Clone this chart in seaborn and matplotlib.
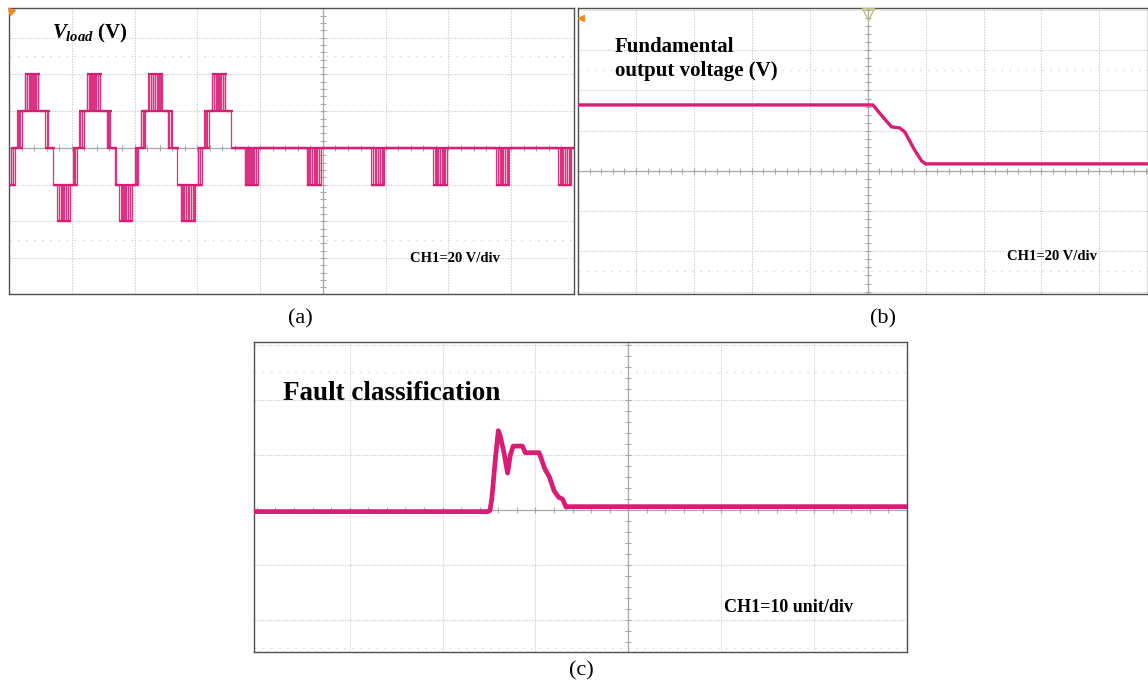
import numpy as np
import pandas as pd
import matplotlib
matplotlib.use("Agg")
import matplotlib.pyplot as plt
import seaborn as sns

sns.set_theme(style="white")
plt.rcParams["font.family"] = ["Liberation Serif", "DejaVu Serif"]
plt.rcParams["text.color"] = "black"
plt.rcParams["mathtext.fontset"] = "custom"
plt.rcParams["mathtext.it"] = "Liberation Serif:italic:bold"
plt.rcParams["mathtext.rm"] = "Liberation Serif:bold"

TRACE = "#d91c74"
GRID = "#cfcfcf"
AXIS = "#a8a8a8"
FRAME = "#505050"

# ---------------- (a) load voltage, 20 V/div, time in divisions ----------------
# segment start, end, lower level, upper level (equal levels -> steady level,
# different levels -> PWM switching band between them)
va_start = [0.00, 0.03, 0.09, 0.13, 0.20, 0.25, 0.49, 0.57, 0.65, 0.70, 0.73, 0.76, 0.97,
            1.02, 1.08, 1.12, 1.19, 1.24, 1.48, 1.56, 1.64, 1.69, 1.72, 1.75, 1.96,
            2.00, 2.06, 2.10, 2.17, 2.22, 2.46, 2.54, 2.62, 2.67, 2.70, 2.74, 2.97,
            3.01, 3.07, 3.11, 3.18, 3.23, 3.47, 3.53, 3.57, 3.76, 3.96,
            4.75, 4.97, 5.76, 5.98, 6.75, 6.97, 7.75, 7.97, 8.74, 8.96]
va_end = [0.03, 0.09, 0.13, 0.20, 0.25, 0.49, 0.57, 0.65, 0.70, 0.73, 0.76, 0.97, 1.02,
          1.08, 1.12, 1.19, 1.24, 1.48, 1.56, 1.64, 1.69, 1.72, 1.75, 1.96, 2.00,
          2.06, 2.10, 2.17, 2.22, 2.46, 2.54, 2.62, 2.67, 2.70, 2.74, 2.97, 3.01,
          3.07, 3.11, 3.18, 3.23, 3.47, 3.53, 3.57, 3.76, 3.96, 4.75,
          4.97, 5.76, 5.98, 6.75, 6.97, 7.75, 7.97, 8.74, 8.96, 9.00]
va_low = [-20, -20, 0, 0, 20, 20, 20, 0, 0, -20, -20, -40, -20,
          -20, 0, 0, 20, 20, 20, 0, 0, -20, -20, -40, -20,
          -20, 0, 0, 20, 20, 20, 0, 0, -20, -20, -40, -20,
          -20, 0, 0, 20, 20, 20, 0, 0, -20, 0,
          -20, 0, -20, 0, -20, 0, -20, 0, -20, 0]
va_high = [-20, 0, 0, 20, 20, 40, 20, 20, 0, 0, -20, -20, -20,
           0, 0, 20, 20, 40, 20, 20, 0, 0, -20, -20, -20,
           0, 0, 20, 20, 40, 20, 20, 0, 0, -20, -20, -20,
           0, 0, 20, 20, 40, 20, 20, 0, 0, 0,
           0, 0, 0, 0, 0, 0, 0, 0, 0, 0]

# ---------------- (b) fundamental output voltage, 20 V/div ----------------
vb_t = [0.00, 5.09, 5.26, 5.41, 5.55, 5.64, 5.81, 5.93, 6.00, 9.83]
vb_v = [32.8, 32.8, 26.9, 21.9, 21.4, 19.4, 10.4, 5.0, 3.5, 3.5]

# ---------------- (c) fault classification, 10 unit/div ----------------
fc_t = [-4.03, -1.51, -1.49, -1.47, -1.43, -1.40, -1.38, -1.34, -1.30, -1.27, -1.24,
        -1.14, -1.11, -0.96, -0.90, -0.85, -0.80, -0.75, -0.71, -0.67, -0.65, 3.00]
fc_v = [-0.3, -0.3, -0.1, 2.0, 9.5, 14.4, 13.5, 10.5, 6.7, 10.0, 11.6,
        11.6, 10.4, 10.4, 7.5, 6.0, 3.5, 2.3, 2.0, 0.5, 0.6, 0.6]

PWM_STEP = 0.036  # switching period drawn inside a band (divisions)


def pwm_trace(starts, ends, lows, highs, step):
    xs, ys = [], []
    for t0, t1, lo, hi in zip(starts, ends, lows, highs):
        if lo == hi:
            xs += [t0, t1]
            ys += [lo, lo]
        else:
            n = max(1, int(round((t1 - t0) / step)))
            edges = np.linspace(t0, t1, n + 1)
            for a, b in zip(edges[:-1], edges[1:]):
                m = a + 0.25 * (b - a)
                xs += [a, a, m, m, b]
                ys += [lo, hi, hi, lo, lo]
    return pd.DataFrame({"t": xs, "v": ys})


def graticule(ax, xlim, ylim, xdiv, ydiv, xc, yc, dots):
    ax.set_xlim(*xlim)
    ax.set_ylim(*ylim)
    xg = np.arange(np.ceil(xlim[0] / xdiv) * xdiv, xlim[1], xdiv)
    yg = np.arange(np.ceil(ylim[0] / ydiv) * ydiv, ylim[1], ydiv)
    for x in xg:
        if abs(x - xc) > 1e-6 and xlim[0] + 0.05 < x < xlim[1] - 0.05:
            ax.axvline(x, color=GRID, lw=0.8, ls=(0, (1.2, 1.2)), zorder=0)
    for y in yg:
        if abs(y - yc) > 1e-6:
            ax.axhline(y, color=GRID, lw=0.8, ls=(0, (1.2, 1.2)), zorder=0)
    for y in dots:
        ax.axhline(y, color="#dcdcdc", lw=0.9, ls=(0, (1.5, 5)), zorder=0)
    ax.axvline(xc, color=AXIS, lw=0.9, zorder=1)
    ax.axhline(yc, color=AXIS, lw=0.9, zorder=1)
    ym = np.arange(np.ceil(ylim[0] / (ydiv / 5)) * ydiv / 5, ylim[1], ydiv / 5)
    xm = np.arange(np.ceil(xlim[0] / (xdiv / 5)) * xdiv / 5, xlim[1], xdiv / 5)
    ax.plot(np.full(len(ym), xc), ym, ls="none", marker="_", ms=4, mew=0.8, color=AXIS, zorder=1)
    ax.plot(xm, np.full(len(xm), yc), ls="none", marker="|", ms=4, mew=0.8, color=AXIS, zorder=1)
    ax.set_xticks([])
    ax.set_yticks([])
    for s in ax.spines.values():
        s.set_color(FRAME)
        s.set_linewidth(1.0)


W, H = 1148, 688
fig = plt.figure(figsize=(W / 100, H / 100), dpi=100)


def box(x0, y0, x1, y1):
    return [x0 / W, 1 - y1 / H, (x1 - x0) / W, (y1 - y0) / H]


def ftext(x, y, s, **kw):
    fig.text(x / W, 1 - y / H, s, color="black", **kw)


ax_a = fig.add_axes(box(9, 8, 574, 294))
ax_b = fig.add_axes(box(578, 8, 1147.5, 294))
ax_c = fig.add_axes(box(254, 342, 907, 652))

# (a)
graticule(ax_a, (0, 9.0), (-79.6, 76.2), 1, 20, 5, 0, [50, -50])
df_a = pwm_trace(va_start, va_end, va_low, va_high, PWM_STEP)
sns.lineplot(data=df_a, x="t", y="v", ax=ax_a, estimator=None, sort=False,
             color=TRACE, lw=0.9, alpha=0.9, zorder=3)
segs = pd.DataFrame({"t0": va_start, "t1": va_end, "lo": va_low, "hi": va_high})
ax_a.hlines(segs.lo, segs.t0, segs.t1, color=TRACE, lw=1.6, zorder=4)
ax_a.hlines(segs.hi, segs.t0, segs.t1, color=TRACE, lw=1.6, zorder=4)
ax_a.set_xlabel("")
ax_a.set_ylabel("")
ax_a.plot([0.03], [74.5], marker=(3, 0, 45), ms=6, color="#f08a24", clip_on=False, zorder=5)

# (b)
graticule(ax_b, (0, 9.83), (-61.2, 81.0), 1, 20, 5, 0, [50, -50])
df_b = pd.DataFrame({"t": vb_t, "v": vb_v})
sns.lineplot(data=df_b, x="t", y="v", ax=ax_b, estimator=None, sort=False,
             color=TRACE, lw=2.4, zorder=3)
ax_b.set_xlabel("")
ax_b.set_ylabel("")
ax_b.plot([0.06], [76.0], marker="<", ms=5, color="#f08a24", clip_on=False, zorder=5)
ax_b.plot([5.0], [78.0], marker="v", ms=8, mfc="none", mec="#c2bf70", mew=1.0, zorder=5)

# (c)
graticule(ax_c, (-4.03, 3.0), (-25.8, 30.5), 1, 10, 0, 0, [25, -25])
df_c = pd.DataFrame({"t": fc_t, "v": fc_v})
sns.lineplot(data=df_c, x="t", y="v", ax=ax_c, estimator=None, sort=False,
             color=TRACE, lw=3.4, zorder=3)
ax_c.set_xlabel("")
ax_c.set_ylabel("")

# panel texts
ftext(52, 33, r"$V_{load}$ (V)", fontsize=15, fontweight="bold", ha="left", va="center")
ftext(615, 59, "Fundamental\noutput voltage (V)", fontsize=15, fontweight="bold",
      ha="left", va="center", linespacing=1.25)
ftext(283, 394, "Fault classification", fontsize=19.5, fontweight="bold", ha="left", va="center")
ftext(410, 258, "CH1=20 V/div", fontsize=10.5, fontweight="bold", ha="left", va="center")
ftext(1007, 257, "CH1=20 V/div", fontsize=10.5, fontweight="bold", ha="left", va="center")
ftext(724, 608, "CH1=10 unit/div", fontsize=13, fontweight="bold", ha="left", va="center")

ftext(300, 319, "(a)", fontsize=16, ha="center", va="center")
ftext(883, 319, "(b)", fontsize=16, ha="center", va="center")
ftext(581, 671, "(c)", fontsize=16, ha="center", va="center")

fig.savefig("out.png", dpi=100)
